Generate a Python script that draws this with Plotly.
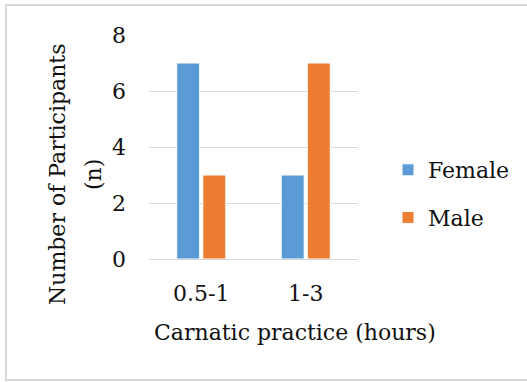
import plotly.graph_objects as go

categories = ["0.5-1", "1-3"]
female = [7, 3]
male = [3, 7]
series_names = ["Female", "Male"]
y_ticks = [0, 2, 4, 6, 8]
x_title = "Carnatic practice (hours)"
y_title_lines = ["Number of Participants", "(n)"]

W, H = 527, 382
L, R, T, B = 149, 358, 35, 259
pw, ph = R - L, B - T

def px(x):
    return (x - L) / pw

def py(y):
    return (B - y) / ph

FONT = "DejaVu Serif"
FS = 22
TXT = "#111111"

fig = go.Figure()
fig.add_trace(go.Bar(x=categories, y=female, name=series_names[0],
                     marker=dict(color="#5B9BD5", line=dict(color="white", width=1)),
                     legendgroup="f"))
fig.add_trace(go.Bar(x=categories, y=male, name=series_names[1],
                     marker=dict(color="#ED7D31", line=dict(color="white", width=1)),
                     legendgroup="m"))

annots = [
    dict(text=x_title, xref="paper", yref="paper", x=px(295), y=py(332),
         xanchor="center", yanchor="middle", showarrow=False,
         font=dict(family=FONT, size=FS, color=TXT)),
]
for line, cx in zip(y_title_lines, [57, 93]):
    annots.append(dict(text=line, xref="paper", yref="paper", x=px(cx), y=py(175),
                       xanchor="center", yanchor="middle", showarrow=False, textangle=-90,
                       font=dict(family=FONT, size=FS, color=TXT)))

fig.update_layout(
    width=W, height=H,
    margin=dict(l=L, r=W - R, t=T, b=H - B, pad=0, autoexpand=False),
    paper_bgcolor="white", plot_bgcolor="white",
    barmode="group", bargap=0.5, bargroupgap=0.12,
    font=dict(family=FONT, size=FS, color=TXT),
    legend=dict(x=px(388), y=py(149), xanchor="left", yanchor="top",
                font=dict(family=FONT, size=FS, color=TXT),
                tracegroupgap=16, traceorder="grouped",
                bgcolor="rgba(0,0,0,0)"),
    xaxis=dict(showgrid=False, showline=True, linecolor="#D9D9D9", linewidth=1,
               ticks="", ticklabelstandoff=15, tickfont=dict(family=FONT, size=FS)),
    yaxis=dict(range=[0, 8], tickvals=y_ticks, showgrid=True, gridcolor="#D9D9D9",
               gridwidth=1, zeroline=False, showline=False, ticks="",
               ticklabelstandoff=22, tickfont=dict(family=FONT, size=FS)),
    annotations=annots,
    shapes=[
        dict(type="rect", xref="paper", yref="paper",
             x0=px(6), x1=px(545), y0=py(380), y1=py(5),
             line=dict(color="#D9D9D9", width=2), fillcolor="rgba(0,0,0,0)", layer="below"),
    ],
)

fig.write_html("out.html")
